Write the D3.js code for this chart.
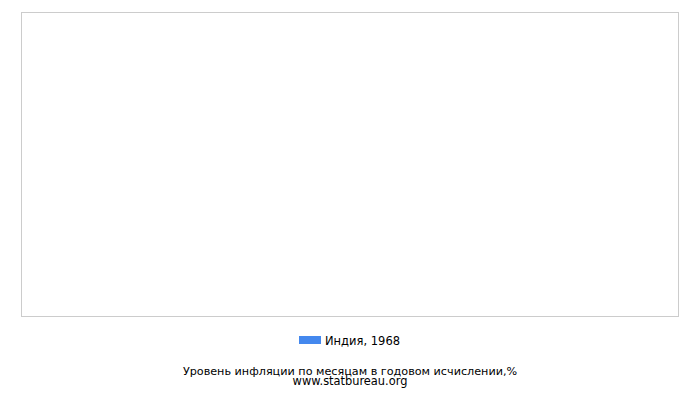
<!DOCTYPE html>
<html>
<head>
<meta charset="utf-8">
<script src="https://cdn.jsdelivr.net/npm/d3@7"></script>
<style>
 body { margin: 0; background: #fff; }
 text { font-family: "DejaVu Sans", sans-serif; }
</style>
</head>
<body>
<script>
 // chart data (the series has no values for this year)
 var seriesName = "Индия, 1968";
 var months = [];
 var values = [];
 var title = "Уровень инфляции по месяцам в годовом исчислении,%";
 var source = "www.statbureau.org";

 var W = 700, H = 400;
 var plot = {left: 21.5, top: 12.5, right: 678.5, bottom: 316.5};

 var svg = d3.select("body").append("svg")
   .attr("width", W)
   .attr("height", H);

 var x = d3.scaleBand().domain(months).range([plot.left, plot.right]).padding(0.2);
 var y = d3.scaleLinear().domain([0, d3.max(values) || 1]).range([plot.bottom, plot.top]);

 // plot frame
 svg.append("rect")
   .attr("x", plot.left)
   .attr("y", plot.top)
   .attr("width", plot.right - plot.left)
   .attr("height", plot.bottom - plot.top)
   .attr("fill", "#fff")
   .attr("stroke", "#cccccc")
   .attr("stroke-width", 1);

 // bars (none for this series)
 svg.selectAll(".bar")
   .data(values)
   .enter().append("rect")
   .attr("class", "bar")
   .attr("x", function(d, i){ return x(months[i]); })
   .attr("y", function(d){ return y(d); })
   .attr("width", x.bandwidth())
   .attr("height", function(d){ return plot.bottom - y(d); })
   .attr("fill", "#4488ee");

 // legend
 var legend = svg.append("g").attr("transform", "translate(299,336)");
 legend.append("rect")
   .attr("width", 22)
   .attr("height", 8)
   .attr("fill", "#4488ee");
 legend.append("text")
   .attr("x", 26)
   .attr("y", 9)
   .attr("font-size", 11.5)
   .attr("fill", "#000")
   .text(seriesName);

 // title
 svg.append("text")
   .attr("x", 350)
   .attr("y", 375)
   .attr("text-anchor", "middle")
   .attr("font-size", 11.2)
   .text(title);
 svg.append("text")
   .attr("x", 350)
   .attr("y", 385)
   .attr("text-anchor", "middle")
   .attr("font-size", 11.4)
   .text(source);
</script>
</body>
</html>
